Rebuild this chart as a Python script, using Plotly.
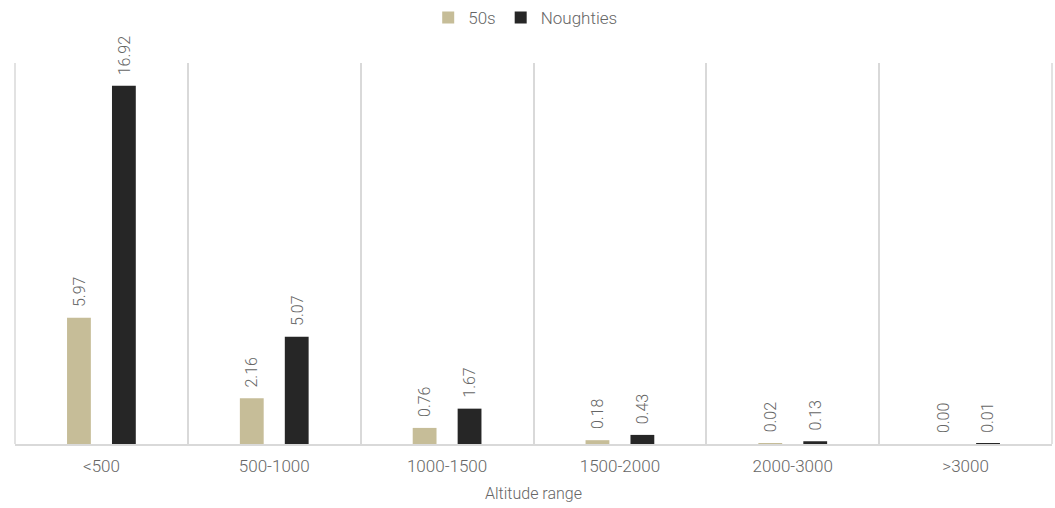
import plotly.graph_objects as go

# Altitude bands and the values for each period
categories = ["<500", "500-1000", "1000-1500", "1500-2000", "2000-3000", ">3000"]
fifties = [5.97, 2.16, 0.76, 0.18, 0.02, 0.00]
noughties = [16.92, 5.07, 1.67, 0.43, 0.13, 0.01]

TAN = "#c6bd98"
BLACK = "#262626"
GREY_TEXT = "#666666"
GRID = "#d9d9d9"
FONT = "Roboto"

fig = go.Figure()
series = [("50s", fifties, TAN, -22.5), ("Noughties", noughties, BLACK, 22.5)]
for name, vals, color, shift in series:
    fig.add_trace(go.Bar(
        name=name,
        x=categories,
        y=vals,
        marker=dict(color=color, line=dict(width=0)),
    ))
    # rotated value labels sitting a little above each bar
    for cat, v in zip(categories, vals):
        fig.add_annotation(
            x=cat, y=v,
            text=f"{v:.2f}",
            textangle=-90,
            showarrow=False,
            xanchor="center", yanchor="bottom",
            xshift=shift, yshift=9,
            font=dict(family=FONT, size=16, color=GREY_TEXT, weight=300),
        )

# outer frame lines on the left and right of the plot area
for xp in (0, 1):
    fig.add_shape(type="line", xref="paper", yref="paper",
                  x0=xp, x1=xp, y0=0, y1=1,
                  line=dict(color=GRID, width=1.5))

fig.update_layout(
    width=1055,
    height=508,
    margin=dict(l=15, r=3, t=63, b=64),
    paper_bgcolor="white",
    plot_bgcolor="white",
    barmode="group",
    bargap=0.48,
    bargroupgap=0.47,
    font=dict(family=FONT, color=GREY_TEXT, weight=300),
    showlegend=True,
    legend=dict(
        orientation="h",
        x=0.492, xanchor="center",
        y=1.0, yref="container", yanchor="top",
        font=dict(size=17, color=GREY_TEXT, weight=300),
        itemwidth=30,
        traceorder="normal",
    ),
    xaxis=dict(
        type="category",
        tickson="boundaries",
        showgrid=True,
        gridcolor=GRID,
        gridwidth=1.5,
        ticks="",
        showline=True,
        linecolor=GRID,
        linewidth=1.5,
        ticklabelstandoff=6,
        tickfont=dict(size=17, color=GREY_TEXT, weight=300),
        title=dict(text="Altitude range", font=dict(size=16, color=GREY_TEXT, weight=300), standoff=13),
    ),
    yaxis=dict(
        range=[0, 18],
        visible=False,
        showgrid=False,
        zeroline=False,
    ),
)

fig.write_html("out.html")
